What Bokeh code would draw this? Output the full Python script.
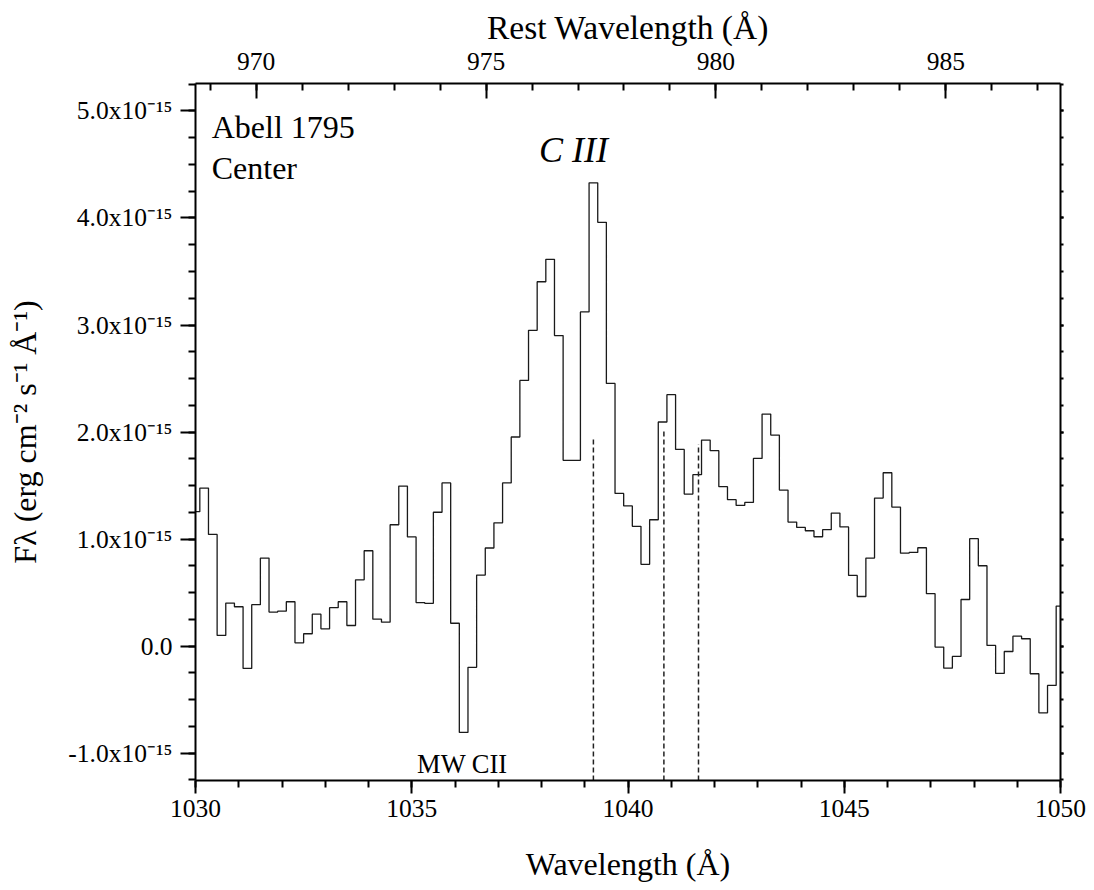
from bokeh.plotting import figure
from bokeh.models import (Range1d, LinearAxis, SingleIntervalTicker,
                          CustomJSTickFormatter, Label, ColumnDataSource)
from bokeh.embed import file_html
from bokeh.resources import INLINE

# ---------------- data ----------------
# observed wavelength (bin centres, Angstrom)
wavelength = [
    1030.0, 1030.2, 1030.4, 1030.6, 1030.8, 1031.0, 1031.2, 1031.4, 1031.6, 1031.8,
    1032.0, 1032.2, 1032.4, 1032.6, 1032.8, 1033.0, 1033.2, 1033.4, 1033.6, 1033.8,
    1034.0, 1034.2, 1034.4, 1034.6, 1034.8, 1035.0, 1035.2, 1035.4, 1035.6, 1035.8,
    1036.0, 1036.2, 1036.4, 1036.6, 1036.8, 1037.0, 1037.2, 1037.4, 1037.6, 1037.8,
    1038.0, 1038.2, 1038.4, 1038.6, 1038.8, 1039.0, 1039.2, 1039.4, 1039.6, 1039.8,
    1040.0, 1040.2, 1040.4, 1040.6, 1040.8, 1041.0, 1041.2, 1041.4, 1041.6, 1041.8,
    1042.0, 1042.2, 1042.4, 1042.6, 1042.8, 1043.0, 1043.2, 1043.4, 1043.6, 1043.8,
    1044.0, 1044.2, 1044.4, 1044.6, 1044.8, 1045.0, 1045.2, 1045.4, 1045.6, 1045.8,
    1046.0, 1046.2, 1046.4, 1046.6, 1046.8, 1047.0, 1047.2, 1047.4, 1047.6, 1047.8,
    1048.0, 1048.2, 1048.4, 1048.6, 1048.8, 1049.0, 1049.2, 1049.4, 1049.6, 1049.8,
    1050.0,
]
# F_lambda in units of 1e-15 erg cm^-2 s^-1 A^-1
flux_1e15 = [
    1.256, 1.477, 1.044, 0.100, 0.402, 0.368, -0.208, 0.387, 0.823, 0.318,
    0.327, 0.415, 0.031, 0.116, 0.299, 0.162, 0.359, 0.415, 0.193, 0.620,
    0.891, 0.252, 0.224, 1.134, 1.495, 1.020, 0.407, 0.400, 1.251, 1.525,
    0.214, -0.806, -0.198, 0.664, 0.917, 1.152, 1.525, 1.954, 2.482, 2.950,
    3.404, 3.614, 2.901, 1.736, 1.736, 3.122, 4.328, 3.959, 2.454, 1.427,
    1.310, 1.119, 0.764, 1.181, 2.094, 2.349, 1.838, 1.421, 1.602, 1.925,
    1.826, 1.490, 1.368, 1.315, 1.343, 1.754, 2.168, 1.972, 1.458, 1.159,
    1.109, 1.078, 1.022, 1.088, 1.243, 1.114, 0.661, 0.464, 0.823, 1.383,
    1.620, 1.299, 0.869, 0.876, 0.919, 0.490, -0.009, -0.206, -0.096, 0.436,
    1.004, 0.751, 0.007, -0.255, -0.050, 0.093, 0.069, -0.258, -0.623, -0.367,
    0.374,
]
# dashed marker lines (observed wavelength, top of line in 1e-15 units)
marker_wl = [1039.2, 1040.83, 1041.63]
marker_top = [1.936, 2.016, 1.885]

one_plus_z = 1.0633          # observed / rest
x_min, x_max = 1030.0, 1050.0
y_min, y_max = -1.255, 5.256

FONT = "Liberation Serif"

p = figure(width=1094, height=890,
           x_range=Range1d(x_min, x_max), y_range=Range1d(y_min, y_max),
           output_backend="svg", toolbar_location=None,
           min_border_left=195, min_border_right=34,
           min_border_top=83, min_border_bottom=110,
           background_fill_color="white", border_fill_color="white")
p.outline_line_color = None
p.xgrid.visible = False
p.ygrid.visible = False
p.extra_x_ranges = {"rest": Range1d(x_min / one_plus_z, x_max / one_plus_z)}

src = ColumnDataSource(dict(wl=wavelength, flux=flux_1e15))
p.step(x="wl", y="flux", source=src, mode="center",
       line_color="#1a1a1a", line_width=1.3)

p.segment(x0=marker_wl, y0=[y_min] * len(marker_wl), x1=marker_wl, y1=marker_top,
          line_color="#222222", line_width=1.5, line_dash="5 3")


def style_axis(ax):
    ax.axis_line_width = 2
    ax.axis_line_color = "black"
    ax.major_tick_line_width = 2
    ax.minor_tick_line_width = 2
    ax.major_tick_line_color = "black"
    ax.minor_tick_line_color = "black"
    ax.major_label_text_font = FONT
    ax.major_label_text_font_size = "25.5px"
    ax.major_label_text_color = "black"
    ax.axis_label_text_font = FONT
    ax.axis_label_text_font_style = "normal"
    ax.axis_label_text_color = "black"


# bottom axis
xa = p.xaxis[0]
style_axis(xa)
xa.ticker = SingleIntervalTicker(interval=5, num_minor_ticks=5)
xa.major_tick_out = 13
xa.major_tick_in = 0
xa.minor_tick_out = 7
xa.minor_tick_in = 0
xa.major_label_standoff = 6
xa.axis_label = "Wavelength (Å)"
xa.axis_label_text_font_size = "32px"
xa.axis_label_standoff = 26

# left axis
ya = p.yaxis[0]
style_axis(ya)
ya.ticker = SingleIntervalTicker(interval=1, num_minor_ticks=4)
ya.major_tick_out = 15
ya.major_tick_in = 0
ya.minor_tick_out = 7
ya.minor_tick_in = 0
ya.major_label_standoff = 8
ya.formatter = CustomJSTickFormatter(code="""
    if (Math.abs(tick) < 1e-9) { return '0.0'; }
    return tick.toFixed(1) + 'x10\u207b\u00b9\u2075';
""")
ya.axis_label = "F\u03bb (erg cm\u207b\u00b2 s\u207b\u00b9 \u00c5\u207b\u00b9)"
ya.axis_label_text_font_size = "32px"
ya.axis_label_standoff = 22

# top axis (rest wavelength)
ta = LinearAxis(x_range_name="rest")
style_axis(ta)
ta.ticker = SingleIntervalTicker(interval=5, num_minor_ticks=5)
ta.major_tick_in = 15
ta.major_tick_out = 0
ta.minor_tick_in = 7
ta.minor_tick_out = 0
ta.major_label_standoff = 14
ta.axis_label = "Rest Wavelength (Å)"
ta.axis_label_text_font_size = "33.5px"
ta.axis_label_standoff = 4
p.add_layout(ta, "above")

# right axis (ticks only)
ra = LinearAxis()
style_axis(ra)
ra.ticker = SingleIntervalTicker(interval=1, num_minor_ticks=4)
ra.major_tick_out = 3
ra.major_tick_in = 0
ra.minor_tick_out = 3
ra.minor_tick_in = 0
ra.formatter = CustomJSTickFormatter(code="return '';")
p.add_layout(ra, "right")

# annotations
p.add_layout(Label(x=1030.375, y=4.845, text="Abell 1795", text_font=FONT,
                   text_font_size="32px", text_align="left",
                   text_baseline="alphabetic", text_color="black"))
p.add_layout(Label(x=1030.375, y=4.462, text="Center", text_font=FONT,
                   text_font_size="32px", text_align="left",
                   text_baseline="alphabetic", text_color="black"))
p.add_layout(Label(x=1038.74, y=4.633, text="C III", text_font=FONT,
                   text_font_size="36px", text_font_style="italic",
                   text_align="center", text_baseline="alphabetic",
                   text_color="black"))
p.add_layout(Label(x=1036.17, y=-1.099, text="MW CII", text_font=FONT,
                   text_font_size="26.5px", text_align="center",
                   text_baseline="alphabetic", text_color="black"))

open("out.html", "w").write(file_html(p, INLINE))
